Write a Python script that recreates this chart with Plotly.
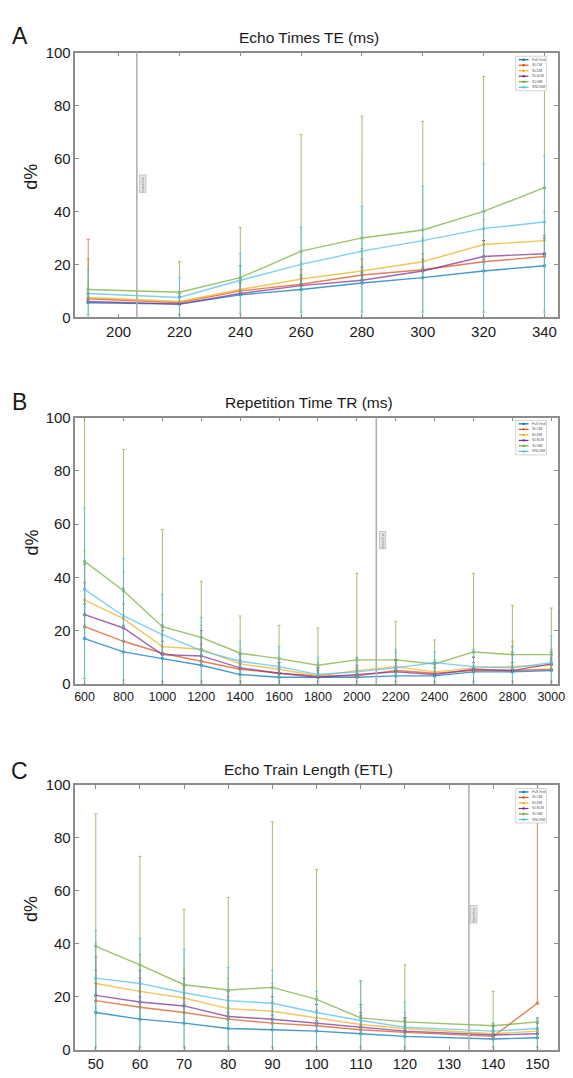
import plotly.graph_objects as go

W, H = 573, 1078
FONT = "Liberation Sans, Arial, Helvetica, sans-serif"

series_names = ["Full Grid", "SLCM", "SLDM", "SLSLM", "SLGM", "SNCSM"]
series_colors = ["#0072BD", "#D95319", "#EDB120", "#7E2F8E", "#77AC30", "#4DBEEE"]

# ---------------- Panel A : Echo Times TE (ms) ----------------
te_x = [190, 220, 240, 260, 280, 300, 320, 340]
te_blue = [5.5, 5, 8.5, 10.5, 13, 15, 17.5, 19.5]
te_orange = [7, 5.5, 10, 12.5, 16, 18, 21, 23]
te_yellow = [7.5, 6, 10.5, 14.5, 17.5, 21, 27.5, 29]
te_purple = [6, 5, 9, 12, 14, 17.5, 23, 24]
te_green = [10.5, 9.5, 15, 25, 30, 33, 40, 49]
te_cyan = [9, 7.5, 14, 20, 25, 29, 33.5, 36]
te_hi_blue = [9, 8, 19.5, 15, 17, 19, 22, 24]
te_hi_orange = [29.5, 9, 14, 18, 22, 24, 29, 31]
te_hi_yellow = [12, 9, 15, 21, 26, 30, 37, 40]
te_hi_purple = [9, 8, 13, 16, 19, 22, 29, 30]
te_hi_green = [22, 21, 34, 69, 76, 74, 91, 97]
te_hi_cyan = [18, 15, 24, 34, 42, 49.5, 58, 61]
te_lo_green = [1, 1, 1.5, 2, 2, 2, 2, 2]
te_lo_cyan = [0, 0, 0, 0, 0, 0, 0, 0]
te_ref = 206
te_ticks = [200, 220, 240, 260, 280, 300, 320, 340]

# ---------------- Panel B : Repetition Time TR (ms) ----------------
tr_x = [600, 800, 1000, 1200, 1400, 1600, 1800, 2000, 2200, 2400, 2600, 2800, 3000]
tr_blue = [17, 12, 9.5, 7, 3.5, 2.5, 2.5, 2.5, 3, 3, 4.5, 4.5, 5]
tr_orange = [21.5, 16, 11.5, 8.5, 5.5, 4, 3, 3, 5, 4, 5, 5, 5.5]
tr_yellow = [31.5, 24.5, 14, 13, 7.5, 5.5, 3, 5, 6.5, 4.5, 6, 6.5, 7]
tr_purple = [26, 21, 11, 10.5, 6, 4, 2.5, 3.5, 4.5, 3.5, 5.5, 5, 7.5]
tr_green = [46, 35, 21.5, 17.5, 11.5, 9.5, 7, 9, 9, 7.5, 12, 11, 11]
tr_cyan = [35.5, 25.5, 18.5, 12.5, 8.5, 6.5, 3.5, 4.5, 6, 8, 6.5, 6, 8]
tr_hi_blue = [30, 22, 16, 13, 8, 6, 5, 5, 6, 6, 8, 8, 9]
tr_hi_orange = [38, 30, 20, 15, 9, 8, 6, 6, 9, 8, 10, 14, 10]
tr_hi_yellow = [50, 42, 26, 22, 13, 10, 8, 10, 12, 9, 12, 16, 13]
tr_hi_purple = [45, 36, 22, 20, 11, 8, 6, 7, 9, 8, 10, 12, 12]
tr_hi_green = [100, 88, 58, 38.5, 25.5, 22, 21, 41.5, 23.5, 16.5, 41.5, 29.5, 28.5]
tr_hi_cyan = [66, 47, 33.5, 25, 16, 14, 10, 10, 13, 12, 13, 14, 18]
tr_lo_green = [2, 1.5, 1, 1, 1, 1, 1, 1, 1, 1, 1, 1, 1]
tr_lo_cyan = [0, 0, 0, 0, 0, 0, 0, 0, 0, 0, 0, 0, 0]
tr_ref = 2100
tr_ticks = [600, 800, 1000, 1200, 1400, 1600, 1800, 2000, 2200, 2400, 2600, 2800, 3000]

# ---------------- Panel C : Echo Train Length (ETL) ----------------
etl_x = [50, 60, 70, 80, 90, 100, 110, 120, 140, 150]
etl_blue = [14, 11.5, 10, 8, 7.5, 7, 6, 5, 4, 4.5]
etl_orange = [18.5, 16, 14, 11.5, 10, 9, 7.5, 6.5, 5, 17.5]
etl_yellow = [25, 22, 19.5, 15.5, 14.5, 12, 9.5, 8, 6, 7]
etl_purple = [20.5, 18, 16.5, 12.5, 11.5, 10, 8.5, 7, 5.5, 6]
etl_green = [39, 32, 24.5, 22.5, 23.5, 19, 12, 10.5, 9, 10.5]
etl_cyan = [27, 25, 21.5, 18.5, 17.5, 14, 11, 8.5, 7, 8]
etl_hi_blue = [25, 20, 17, 14, 13, 11, 17, 12, 7, 8]
etl_hi_orange = [30, 27, 24, 20, 18, 15, 13, 11, 9, 88]
etl_hi_yellow = [40, 36, 30, 27, 25, 20, 16, 14, 10, 12]
etl_hi_purple = [35, 30, 27, 22, 20, 17, 14, 12, 9, 10]
etl_hi_green = [89, 73, 53, 57.5, 86, 68, 26, 32, 22, 12]
etl_hi_cyan = [45, 42, 38, 31, 30, 22, 26, 18, 10, 12]
etl_lo_green = [1, 1, 1, 1, 1, 1, 1, 1, 1, 1]
etl_lo_cyan = [0, 0, 0, 0, 0, 0, 0, 0, 0, 0]
etl_ref = 134.5
etl_ticks = [50, 60, 70, 80, 90, 100, 110, 120, 130, 140, 150]

y_ticks = [0, 20, 40, 60, 80, 100]

panels = [
    dict(x=te_x,
         vals=[te_blue, te_orange, te_yellow, te_purple, te_green, te_cyan],
         hi=[te_hi_blue, te_hi_orange, te_hi_yellow, te_hi_purple, te_hi_green, te_hi_cyan],
         lo={4: te_lo_green, 5: te_lo_cyan},
         ref=te_ref, ticks=te_ticks, rng=[185.8, 344.5], tfs=15,
         ydom=(44.3, 313.3), title="Echo Times TE (ms)", letter="A",
         title_y=29, letter_y=27, leg_top=48, lab_y=(165, 190), lab_x=144),
    dict(x=tr_x,
         vals=[tr_blue, tr_orange, tr_yellow, tr_purple, tr_green, tr_cyan],
         hi=[tr_hi_blue, tr_hi_orange, tr_hi_yellow, tr_hi_purple, tr_hi_green, tr_hi_cyan],
         lo={4: tr_lo_green, 5: tr_lo_cyan},
         ref=tr_ref, ticks=tr_ticks, rng=[553, 3035], tfs=12.5,
         ydom=(415.2, 685.7), title="Repetition Time TR (ms)", letter="B",
         title_y=400, letter_y=399, leg_top=418, lab_y=(528, 552), lab_x=387),
    dict(x=etl_x,
         vals=[etl_blue, etl_orange, etl_yellow, etl_purple, etl_green, etl_cyan],
         hi=[etl_hi_blue, etl_hi_orange, etl_hi_yellow, etl_hi_purple, etl_hi_green, etl_hi_cyan],
         lo={4: etl_lo_green, 5: etl_lo_cyan},
         ref=etl_ref, ticks=etl_ticks, rng=[45.4, 154.7], tfs=14.5,
         ydom=(788.3, 1057.3), title="Echo Train Length (ETL)", letter="C",
         title_y=773, letter_y=774, leg_top=792, lab_y=(909, 930), lab_x=480),
]

X0, X1 = 75.5, 565.0


def px(xp):
    return xp / W


def py(yp):
    return 1 - yp / H


fig = go.Figure()
shapes = []
annotations = []
layout = {}

for i, p in enumerate(panels):
    k = "" if i == 0 else str(i + 1)
    xa, ya = "x" + k, "y" + k
    for j in range(6):
        v = p["vals"][j]
        hi = p["hi"][j]
        lo = p["lo"].get(j, v)
        fig.add_trace(go.Scatter(
            x=p["x"], y=v, xaxis=xa, yaxis=ya, mode="lines+markers",
            name=series_names[j], showlegend=False, opacity=0.72,
            line=dict(color=series_colors[j], width=1.4),
            marker=dict(color=series_colors[j], size=3.5),
            error_y=dict(type="data", symmetric=False,
                         array=[h - a for h, a in zip(hi, v)],
                         arrayminus=[a - l for a, l in zip(v, lo)],
                         color=series_colors[j], thickness=1.0, width=1.5),
        ))
    axis_common = dict(showline=True, mirror="allticks", linecolor="#8c8c8c", linewidth=1.5,
                       ticks="inside", ticklen=4, tickcolor="#8c8c8c", showgrid=False,
                       zeroline=False)
    layout["xaxis" + k] = dict(axis_common, domain=[px(X0), px(X1)], range=p["rng"],
                               tickvals=p["ticks"], anchor=ya,
                               tickfont=dict(family=FONT, size=p["tfs"], color="#1a1a1a"))
    y0p, y1p = p["ydom"]
    layout["yaxis" + k] = dict(axis_common, domain=[py(y1p), py(y0p)], range=[0, 100],
                               tickvals=y_ticks, anchor=xa,
                               tickfont=dict(family=FONT, size=15, color="#1a1a1a"))
    # reference line
    shapes.append(dict(type="line", xref=xa, yref=ya + " domain", x0=p["ref"], x1=p["ref"],
                       y0=0, y1=1, line=dict(color="#b0b0b0", width=1.6)))
    # small label next to the reference line
    annotations.append(dict(xref="paper", yref="paper", x=px(p["lab_x"]),
                            y=py((p["lab_y"][0] + p["lab_y"][1]) / 2),
                            xanchor="center", yanchor="middle",
                            text="baseline", textangle=-90, showarrow=False,
                            font=dict(family=FONT, size=4, color="#777"),
                            bordercolor="#aaa", borderwidth=0.6, borderpad=0.5,
                            bgcolor="#e8e8e8"))
    # title, letter, y label
    annotations.append(dict(xref="paper", yref="paper", x=px(312), y=py(p["title_y"]),
                            xanchor="center", yanchor="middle",
                            text=p["title"], showarrow=False,
                            font=dict(family=FONT, size=15.5, color="#1a1a1a")))
    annotations.append(dict(xref="paper", yref="paper", x=px(19), y=py(p["letter_y"]),
                            xanchor="center", yanchor="middle",
                            text=p["letter"], showarrow=False,
                            font=dict(family=FONT, size=23, color="#1a1a1a")))
    annotations.append(dict(xref="paper", yref="paper", x=px(31), y=py((y0p + y1p) / 2 - 8),
                            xanchor="center", yanchor="middle",
                            text="d%", textangle=-90, showarrow=False,
                            font=dict(family=FONT, size=18, color="#1a1a1a")))
    # manual compact legend
    lx0, lx1 = 522, 553
    lt = p["leg_top"]
    shapes.append(dict(type="rect", xref="paper", yref="paper", x0=px(lx0), x1=px(lx1),
                       y0=py(lt + 35), y1=py(lt), fillcolor="white",
                       line=dict(color="#c8c8c8", width=0.8)))
    for j in range(6):
        yy = lt + 3.5 + j * 5.6
        shapes.append(dict(type="line", xref="paper", yref="paper",
                           x0=px(lx0 + 3), x1=px(lx0 + 13), y0=py(yy), y1=py(yy),
                           line=dict(color=series_colors[j], width=1.2)))
        shapes.append(dict(type="circle", xref="paper", yref="paper",
                           x0=px(lx0 + 6.8), x1=px(lx0 + 9.2), y0=py(yy + 1.2), y1=py(yy - 1.2),
                           fillcolor=series_colors[j], line=dict(width=0)))
        annotations.append(dict(xref="paper", yref="paper", x=px(lx0 + 14.5), y=py(yy),
                                xanchor="left", yanchor="middle", text=series_names[j],
                                showarrow=False,
                                font=dict(family=FONT, size=3.6, color="#555")))

fig.update_layout(
    width=W, height=H, margin=dict(l=0, r=0, t=0, b=0),
    paper_bgcolor="white", plot_bgcolor="white",
    shapes=shapes, annotations=annotations, **layout,
)

fig.write_html("out.html")
